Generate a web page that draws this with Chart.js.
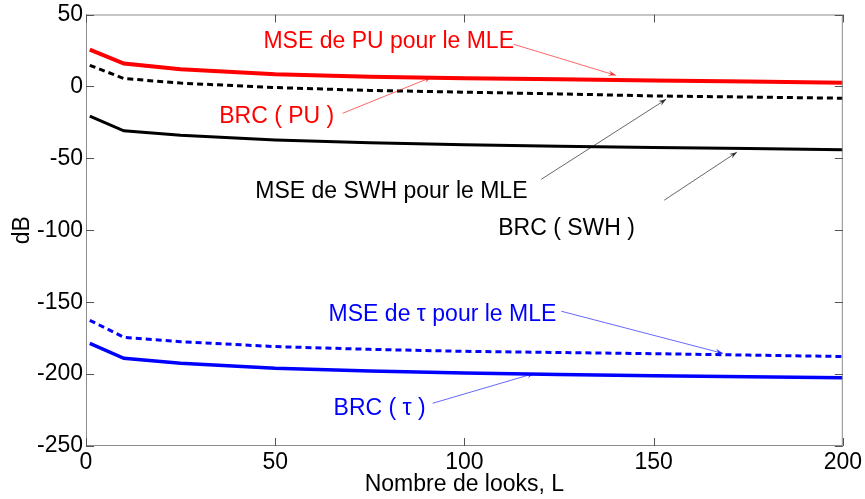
<!DOCTYPE html>
<html>
<head>
<meta charset="utf-8">
<script src="https://cdn.jsdelivr.net/npm/chart.js@4/dist/chart.umd.min.js"></script>
<style>
  body { margin: 0; background: #fff; }
  #wrap { width: 865px; height: 499px; }
</style>
</head>
<body>
<div id="wrap"><canvas id="canvas" width="865" height="499"></canvas></div>
<script>
// nombre de looks
var looks = [1, 10, 25, 50, 75, 100, 125, 150, 175, 200];
// courbes en dB
var msePU   = [25.6, 15.9, 12.0, 8.5, 6.8, 5.6, 4.9, 4.2, 3.4, 2.6];
var mseSWH  = [14.7, 5.5, 2.3, -0.8, -2.8, -4.0, -5.2, -6.6, -7.4, -8.2];
var brcSWH  = [-20.7, -30.9, -34.0, -37.2, -39.2, -40.6, -41.6, -42.4, -43.2, -44.0];
var mseTau  = [-162.6, -174.4, -177.5, -180.9, -182.8, -184.2, -185.0, -185.8, -186.8, -187.8];
var brcTau  = [-178.7, -189.0, -192.5, -196.0, -197.9, -199.2, -200.3, -201.2, -201.9, -202.5];
var xTicks = [0, 50, 100, 150, 200];
var yTicks = [50, 0, -50, -100, -150, -200, -250];

// annotations: texte + flèche (coordonnées en données)
var notes = [
  { text: 'MSE de PU pour le MLE', color: '#ff0000', x: 80, y: 31.4, ax: [113, 29.3, 140, 7.7] },
  { text: 'BRC ( PU )', color: '#ff0000', x: 50.4, y: -20.7, ax: [67.8, -18.7, 91.3, 6.4] },
  { text: 'MSE de SWH pour le MLE', color: '#000000', x: 80.7, y: -73, ax: [120.3, -64.6, 153.3, -9] },
  { text: 'BRC ( SWH )', color: '#000000', x: 127, y: -98.6, ax: [152.8, -79.1, 172, -45.7] },
  { text: 'MSE de \u03c4 pour le MLE', color: '#0000ff', x: 94.2, y: -158.4, ax: [125.6, -156.3, 168.3, -185.6] },
  { text: 'BRC ( \u03c4 )', color: '#0000ff', x: 77.6, y: -223.8, ax: [91.6, -220.3, 118.5, -199.5] }
];

function pts(arr) {
  return arr.map(function (v, i) { return { x: looks[i], y: v }; });
}

var FONT = '"Liberation Sans", Arial, sans-serif';

var boxPlugin = {
  id: 'matlabBox',
  afterDraw: function (chart) {
    var ctx = chart.ctx, a = chart.chartArea;
    var xs = chart.scales.x, ys = chart.scales.y;
    ctx.save();
    // flèches + textes
    notes.forEach(function (n) {
      var x1 = xs.getPixelForValue(n.ax[0]), y1 = ys.getPixelForValue(n.ax[1]);
      var x2 = xs.getPixelForValue(n.ax[2]), y2 = ys.getPixelForValue(n.ax[3]);
      ctx.strokeStyle = n.color;
      ctx.fillStyle = n.color;
      ctx.globalAlpha = 0.75;
      ctx.lineWidth = 0.8;
      ctx.beginPath(); ctx.moveTo(x1, y1); ctx.lineTo(x2, y2); ctx.stroke();
      var ang = Math.atan2(y2 - y1, x2 - x1), L = 8, W = 0.35;
      ctx.beginPath();
      ctx.moveTo(x2, y2);
      ctx.lineTo(x2 - L * Math.cos(ang - W), y2 - L * Math.sin(ang - W));
      ctx.lineTo(x2 - L * 0.6 * Math.cos(ang), y2 - L * 0.6 * Math.sin(ang));
      ctx.lineTo(x2 - L * Math.cos(ang + W), y2 - L * Math.sin(ang + W));
      ctx.closePath(); ctx.fill();
      ctx.globalAlpha = 1;
      ctx.font = '23px ' + FONT;
      ctx.textAlign = 'center';
      ctx.textBaseline = 'middle';
      ctx.fillText(n.text, xs.getPixelForValue(n.x), ys.getPixelForValue(n.y));
    });
    // cadre et graduations intérieures
    ctx.strokeStyle = '#8c8c8c';
    ctx.lineWidth = 1;
    ctx.strokeRect(a.left + 0.5, a.top + 0.5, a.right - a.left - 1, a.bottom - a.top - 1);
    ctx.strokeStyle = '#555';
    ctx.beginPath();
    xTicks.forEach(function (t) {
      var px = Math.round(xs.getPixelForValue(t)) + 0.5;
      ctx.moveTo(px, a.bottom); ctx.lineTo(px, a.bottom - 8);
      ctx.moveTo(px, a.top); ctx.lineTo(px, a.top + 8);
    });
    yTicks.forEach(function (t) {
      var py = Math.round(ys.getPixelForValue(t)) + 0.5;
      ctx.moveTo(a.left, py); ctx.lineTo(a.left + 8, py);
      ctx.moveTo(a.right, py); ctx.lineTo(a.right - 8, py);
    });
    ctx.stroke();
    ctx.restore();
  }
};

var ctx = document.getElementById('canvas').getContext('2d');
new Chart(ctx, {
  type: 'line',
  data: {
    datasets: [
      { label: 'MSE de PU pour le MLE', data: pts(msePU), borderColor: '#ff0000', borderWidth: 4 },
      { label: 'MSE de SWH pour le MLE', data: pts(mseSWH), borderColor: '#000000', borderWidth: 3, borderDash: [6, 4] },
      { label: 'BRC ( SWH )', data: pts(brcSWH), borderColor: '#000000', borderWidth: 3 },
      { label: 'MSE de tau pour le MLE', data: pts(mseTau), borderColor: '#0000ff', borderWidth: 3, borderDash: [6, 4] },
      { label: 'BRC ( tau )', data: pts(brcTau), borderColor: '#0000ff', borderWidth: 3.5 }
    ]
  },
  options: {
    responsive: false,
    animation: false,
    layout: { padding: { top: 14, right: 21, left: 0, bottom: 0 } },
    elements: { point: { radius: 0 }, line: { tension: 0, fill: false } },
    plugins: { legend: { display: false }, tooltip: { enabled: false } },
    scales: {
      x: {
        type: 'linear', min: 0, max: 200,
        afterBuildTicks: function (s) { s.ticks = xTicks.map(function (v) { return { value: v }; }); },
        afterFit: function (s) { s.height = 53; },
        grid: { display: false, drawTicks: false },
        border: { display: false },
        ticks: { color: '#000', padding: 3, font: { size: 23, family: FONT } },
        title: { display: true, text: 'Nombre de looks, L', color: '#000', padding: { top: 0, bottom: 1 }, font: { size: 23, family: FONT } }
      },
      y: {
        type: 'linear', min: -250, max: 50,
        afterBuildTicks: function (s) { s.ticks = yTicks.map(function (v) { return { value: v }; }); },
        afterFit: function (s) { s.width = 86; },
        grid: { display: false, drawTicks: false },
        border: { display: false },
        ticks: { color: '#000', padding: 3, font: { size: 23, family: FONT, lineHeight: 1 } },
        title: { display: true, text: 'dB', color: '#000', padding: { top: 9, bottom: 0 }, font: { size: 23, family: FONT } }
      }
    }
  },
  plugins: [boxPlugin]
});
</script>
</body>
</html>
